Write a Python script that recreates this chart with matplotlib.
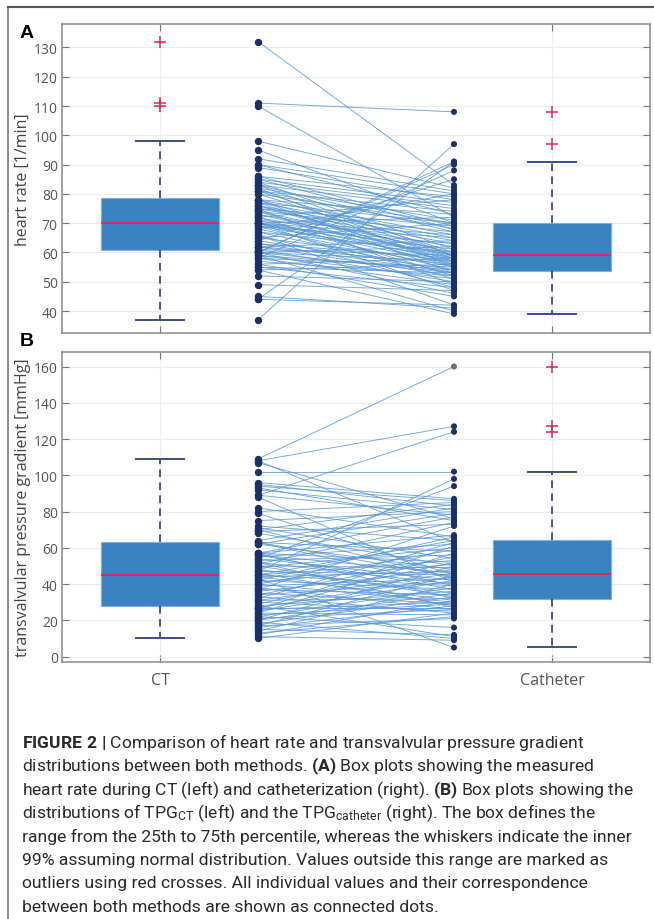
import matplotlib
matplotlib.use("Agg")
import matplotlib.pyplot as plt
from matplotlib.lines import Line2D

# heart rate [1/min], paired CT / catheter
hr_ct = [37, 44, 44, 45, 49, 52, 54, 54, 55, 55, 56, 56, 57, 58, 58, 58, 59, 59, 59, 60,
         60, 60, 60, 60, 60, 61, 61, 62, 62, 62, 63, 63, 64, 64, 65, 65, 66, 66, 67, 67,
         68, 68, 69, 69, 69, 70, 70, 70, 70, 70, 70, 70, 71, 71, 72, 72, 72, 73, 73, 74,
         74, 74, 75, 75, 75, 76, 76, 76, 77, 77, 77, 78, 78, 78, 78, 80, 80, 81, 81, 81,
         82, 82, 83, 83, 83, 84, 84, 85, 85, 86, 86, 89, 90, 90, 92, 95, 98, 110, 111, 132]
hr_cath = [97, 91, 42, 41, 47, 50, 39, 56, 48, 53, 45, 58, 52, 88, 49, 55, 51, 40, 54, 90,
           53, 57, 46, 62, 91, 59, 50, 64, 52, 56, 53, 58, 85, 54, 70, 57, 42, 48, 60, 53,
           80, 55, 63, 58, 51, 65, 56, 59, 47, 72, 61, 54, 57, 66, 59, 78, 52, 62, 58, 67,
           55, 60, 63, 49, 69, 57, 64, 59, 70, 56, 65, 58, 73, 53, 66, 59, 70, 68, 74, 60,
           71, 55, 75, 67, 59, 76, 61, 77, 68, 79, 69, 78, 80, 73, 81, 70, 82, 72, 108, 83]

# transvalvular pressure gradient [mmHg], paired CT / catheter
tpg_ct = [10, 11, 12, 13, 14, 15, 16, 17, 17, 18, 19, 20, 20, 21, 22, 22, 23, 24, 24, 25,
          26, 26, 27, 27, 28, 28, 29, 30, 31, 31, 32, 33, 34, 34, 35, 36, 37, 37, 38, 39,
          40, 40, 41, 42, 42, 43, 44, 44, 45, 45, 45, 46, 47, 47, 48, 49, 50, 50, 51, 52,
          52, 53, 54, 54, 55, 56, 56, 57, 57, 57, 57, 62, 62, 63, 63, 63, 64, 68, 69, 70,
          70, 71, 72, 75, 79, 80, 82, 88, 89, 89, 92, 93, 94, 95, 96, 102, 107, 108, 108, 109]
tpg_cath = [24, 9, 31, 22, 40, 12, 28, 45, 21, 33, 10, 35, 50, 26, 16, 38, 29, 57, 23, 42,
            30, 61, 27, 44, 11, 36, 52, 25, 46, 32, 63, 24, 41, 55, 29, 48, 34, 72, 26, 43,
            59, 30, 51, 37, 66, 5, 47, 31, 64, 39, 53, 28, 98, 45, 35, 60, 33, 49, 74, 40,
            27, 56, 94, 42, 62, 37, 46, 77, 32, 52, 67, 48, 79, 39, 58, 44, 82, 50, 73, 43,
            84, 54, 64, 80, 45, 85, 66, 41, 124, 78, 81, 75, 86, 83, 87, 102, 76, 127, 63, 160]

methods = ["CT", "Catheter"]

caption = [
    r"$\mathbf{FIGURE\ 2\ |}$ Comparison of heart rate and transvalvular pressure gradient",
    r"distributions between both methods. $\mathbf{(A)}$ Box plots showing the measured",
    r"heart rate during CT (left) and catheterization (right). $\mathbf{(B)}$ Box plots showing the",
    r"distributions of TPG$_{\mathrm{CT}}$ (left) and the TPG$_{\mathrm{catheter}}$ (right). The box defines the",
    r"range from the 25th to 75th percentile, whereas the whiskers indicate the inner",
    r"99% assuming normal distribution. Values outside this range are marked as",
    r"outliers using red crosses. All individual values and their correspondence",
    r"between both methods are shown as connected dots.",
]

plt.rcParams["font.family"] = "Open Sans"
plt.rcParams["mathtext.fontset"] = "custom"
plt.rcParams["mathtext.rm"] = "Roboto"
plt.rcParams["mathtext.bf"] = "Roboto:bold"
plt.rcParams["mathtext.it"] = "Roboto:italic"

BOX = "#3a82c1"
NAVY = "#1c3068"
RED = "#e8254d"
LINE = "#5696d6"
TICK = "#555555"

fig = plt.figure(figsize=(6.54, 9.2), dpi=100)


def panel(rect, left, right, ylim, yticks, ylabel, show_x):
    ax = fig.add_axes(rect)
    # paired lines and dots
    for a, b in zip(left, right):
        ax.plot([1.25, 1.75], [a, b], color=LINE, lw=0.65, alpha=0.85, zorder=2)
    ax.plot([1.25] * len(left), left, "o", color=NAVY, ms=4.3, zorder=3)
    dot_cols = ["#6e6e6e" if v >= 150 else NAVY for v in right]
    ax.scatter([1.75] * len(right), right, s=19, c=dot_cols, zorder=3, linewidths=0)

    ax.boxplot([left, right], positions=[1, 2], widths=0.3, capwidths=0.12,
               patch_artist=True, whis=1.5,
               boxprops=dict(facecolor=BOX, edgecolor="#7fb0dc", lw=0.8),
               medianprops=dict(color=RED, lw=1.3),
               whiskerprops=dict(color=NAVY, lw=1.1, linestyle=(0, (5, 3.5))),
               capprops=dict(color="#3d4f80", lw=1.4),
               flierprops=dict(marker="+", markeredgecolor=RED, markersize=8, mew=1.1))

    ax.set_xlim(0.75, 2.25)
    ax.set_ylim(*ylim)
    ax.set_yticks(yticks)
    ax.set_xticks([1, 2])
    ax.set_xticklabels(methods if show_x else ["", ""])
    ax.grid(True, color="#ececec", lw=0.8, zorder=0)
    ax.set_axisbelow(True)
    ax.tick_params(direction="in", top=True, right=True, length=5, color="#777777",
                   labelcolor=TICK)
    ax.tick_params(axis="y", labelsize=10, pad=3)
    ax.tick_params(axis="x", labelsize=11.5, pad=7)
    for s in ax.spines.values():
        s.set_color("#8a8a8a")
        s.set_linewidth(1.1)
    ax.set_ylabel(ylabel, fontsize=11.5, color="#444444", labelpad=2)
    return ax


axA = panel([62 / 654, 1 - 334 / 920, 588 / 654, 309 / 920], hr_ct, hr_cath,
            (32.5, 138), range(40, 131, 10), "heart rate [1/min]", False)
axB = panel([62 / 654, 1 - 663 / 920, 588 / 654, 310 / 920], tpg_ct, tpg_cath,
            (-3, 168), range(0, 161, 20), "transvalvular pressure gradient [mmHg]", True)

fig.text(20 / 654, 1 - 33 / 920, "A", fontsize=14, fontweight="bold",
         family="Liberation Sans", va="center")
fig.text(20 / 654, 1 - 342 / 920, "B", fontsize=14, fontweight="bold",
         family="Liberation Sans", va="center")

# caption
for i, line in enumerate(caption):
    fig.text(22 / 654, 1 - (743 + i * 23.5) / 920, line, family="Roboto",
             fontsize=12.6, color="#2a2a2a", va="center")

# outer frame
fig.add_artist(Line2D([8 / 654, 8 / 654], [0, 1 - 8 / 920], color="#777777", lw=1.2))
fig.add_artist(Line2D([8 / 654, 1], [1 - 8 / 920, 1 - 8 / 920], color="#555555", lw=1.5))

fig.savefig("out.png", dpi=100)
